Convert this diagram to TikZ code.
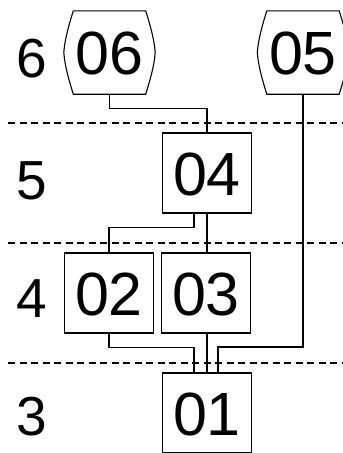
\documentclass[tikz,border=0pt]{standalone}
\usepackage{fontspec}
\setmainfont{Liberation Sans}
\usetikzlibrary{calc}
\tikzset{
  boxnode/.style={draw, rectangle, line width=1.1pt, minimum width=89pt, minimum height=80pt,
    inner sep=0pt, text height=44pt, text depth=0pt, font=\fontsize{61}{61}\selectfont},
  hexnode/.style={rectangle, minimum width=72pt, minimum height=83pt,
    inner sep=0pt, text height=44pt, text depth=0pt, font=\fontsize{61}{61}\selectfont},
  hexline/.style={line width=1.1pt},
  levellabel/.style={anchor=base, inner sep=0pt, font=\fontsize{55}{55}\selectfont},
  sepline/.style={line width=1.1pt, dash pattern=on 7pt off 4.5pt},
  conn/.style={line width=1.1pt},
}
\newcommand{\hexoutline}[1]{%
  \draw[hexline] (#1.north west) -- (#1.north east)
    .. controls ($(#1.north east)+(4,13)$) and ($(#1.east)+(8.5,-14)$) .. ($(#1.east)+(9.5,0)$)
    .. controls ($(#1.east)+(8.5,14)$) and ($(#1.south east)+(4,-13)$) .. (#1.south east)
    -- (#1.south west)
    .. controls ($(#1.south west)+(-4,-13)$) and ($(#1.west)+(-8.5,14)$) .. ($(#1.west)+(-9.5,0)$)
    .. controls ($(#1.west)+(-8.5,-14)$) and ($(#1.north west)+(-4,13)$) .. (#1.north west);}
\begin{document}
\begin{tikzpicture}[x=1pt,y=-1pt]
\useasboundingbox (0,0) rectangle (343,453);
\fill[white] (0,0) rectangle (343,453);
% level separators
\draw[sepline] (8,123) -- (343,123);
\draw[sepline] (8,243) -- (343,243);
\draw[sepline] (8,363) -- (343,363);
% level labels
\node[levellabel] (l6) at (32,77) {6};
\node[levellabel] (l5) at (32,199) {5};
\node[levellabel] (l4) at (32,317) {4};
\node[levellabel] (l3) at (32,435) {3};
% nodes
\node[hexnode] (n06) at (109.5,52.5) {06};
\node[hexnode] (n05) at (303,52.5) {05};
\hexoutline{n06}
\hexoutline{n05}
\node[boxnode] (n04) at (207,173) {04};
\node[boxnode] (n02) at (109,293) {02};
\node[boxnode] (n03) at (206,293) {03};
\node[boxnode] (n01) at (207,413) {01};
% connector x positions
\coordinate (xa) at (194,0);
\coordinate (xb) at (218,0);
\coordinate (ym) at (0,347);
% connectors
\draw[conn] (n06.south) -- ++(0,14) -| (n04.north);
\draw[conn] (n04.south -| xa) -- ++(0,14) -| (n02.north);
\draw[conn] (n04.south) -- (n04.south |- n03.north);
\draw[conn] (n02.south) -- ++(0,14) -| (n01.north -| xa);
\draw[conn] (n03.south -| n01.north) -- (n01.north);
\draw[conn] (n05.south) -- (n05.south |- ym) -| (n01.north -| xb);
\end{tikzpicture}
\end{document}
